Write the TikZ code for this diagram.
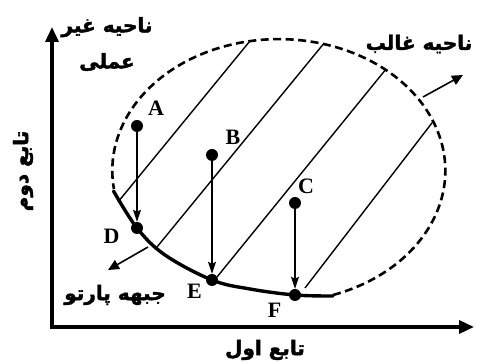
\documentclass[tikz,border=0pt]{standalone}
\usepackage{fontspec}
\setmainfont{Liberation Serif}
\newfontfamily\arabicfont[Script=Arabic, BoldFeatures={FakeBold=2}]{DejaVu Sans}
\TeXXeTstate=1
\usetikzlibrary{arrows.meta}

\begin{document}
\begin{tikzpicture}[
  x=1pt, y=1pt,
  axes/.style={line width=3.5pt, {Triangle[length=15pt, width=13pt]}-{Triangle[length=15pt, width=13pt]}},
  front/.style={line width=3.4pt, line cap=round},
  region/.style={line width=2.6pt, dash pattern=on 8pt off 4.5pt},
  hatch/.style={line width=1.4pt},
  dot/.style={circle, fill=black, inner sep=0pt, minimum size=12pt},
  proj/.style={line width=1.4pt, -{Stealth[length=12pt, width=8pt, inset=2pt]}},
  pointer/.style={line width=1.6pt, -{Triangle[length=11pt, width=10pt]}},
  letter/.style={font=\fontsize{22}{22}\selectfont\bfseries, inner sep=0pt},
  fa/.style={font=\arabicfont\fontsize{20}{36}\selectfont\bfseries, align=center, inner sep=0pt}
]
\useasboundingbox (0,0) rectangle (477,363);

% axes
\coordinate (ytip) at (52,336);
\coordinate (xtip) at (474,36);
\draw[axes] (ytip) |- (xtip);

% hatching inside the region
\begin{scope}
\clip (278.8,192.3) ellipse[x radius=166.5, y radius=131.5];
\draw[hatch] (118,161) -- ++(200,244);
\draw[hatch] (157,116) -- ++(200,244);
\draw[hatch] (217,86) -- ++(200,246);
\draw[hatch] (305,75) -- ++(200,260);
\end{scope}

% region border and pareto front
\draw[region] (333,68) arc[start angle=-71, end angle=188, x radius=166.5, y radius=131.5];
\draw[front] plot[smooth, tension=0.6] coordinates {(113.5,172) (137,135) (165,108) (212,83) (250,74) (295,68) (333,67)};

% points
\node[dot] (A) at (137,237) {};
\node[dot] (B) at (212,208) {};
\node[dot] (C) at (295,160) {};
\node[dot] (D) at (137,135) {};
\node[dot] (E) at (212,83) {};
\node[dot] (F) at (295,68) {};
\node[letter] (la) at (156,255) {A};
\node[letter] (lb) at (233,226) {B};
\node[letter] (lc) at (306,177) {C};
\node[letter] (ld) at (111.5,126.5) {D};
\node[letter] (le) at (194.5,71.5) {E};
\node[letter] (lf) at (274.5,53) {F};

\draw[proj] (A) -- (D);
\draw[proj] (B) -- (E);
\draw[proj] (C) -- (F);

% labels
\node[fa] (infeas) at (107,319) {\beginR ناحیه غیر\endR\\\beginR عملی\endR};
\node[fa] (dom) at (419,319) {\beginR ناحیه غالب\endR};
\node[fa] (pareto) at (115,68) {\beginR جبهه پارتو\endR};
\node[fa] (f1) at (265,13) {\beginR تابع اول\endR};
\node[fa, rotate=90] (f2) at (23,192) {\beginR تابع دوم\endR};

\coordinate (domfrom) at (423,266);
\coordinate (domto) at (463,288);
\draw[pointer] (domfrom) -- (domto);
\coordinate (parfrom) at (148,116);
\coordinate (parto) at (108,93);
\draw[pointer] (parfrom) -- (parto);
\end{tikzpicture}
\end{document}
